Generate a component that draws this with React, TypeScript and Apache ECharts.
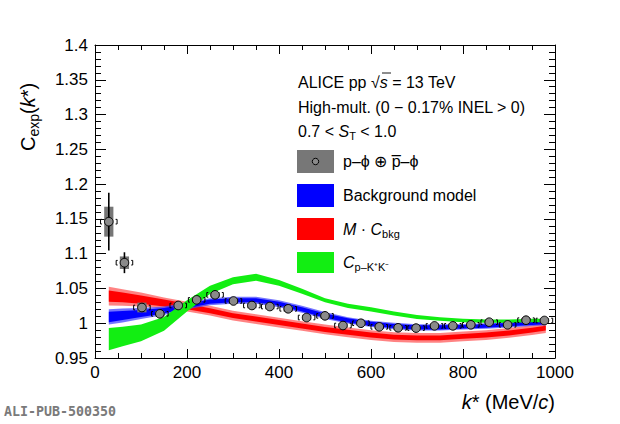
import React, { useEffect, useRef } from "react";
import * as echarts from "echarts";

// ---- band grid (k* in MeV/c) ----
const bandK = [30, 60, 100, 150, 200, 250, 300, 350, 400, 450, 500, 550, 600, 650, 700, 750, 800, 850, 900, 950, 980];

// Background model (blue)
const bkgCenter = [1.009, 1.011, 1.014, 1.018, 1.025, 1.031, 1.033, 1.033, 1.028, 1.020, 1.011, 1.004, 0.999, 0.996, 0.994, 0.994, 0.995, 0.996, 0.998, 1.000, 1.001];
const bkgOuter = [0.011, 0.010, 0.008, 0.006, 0.005, 0.005, 0.005, 0.005, 0.005, 0.005, 0.005, 0.0045, 0.0045, 0.0045, 0.0045, 0.0045, 0.004, 0.004, 0.004, 0.004, 0.004];
const bkgInner = [0.0075, 0.0065, 0.005, 0.004, 0.003, 0.003, 0.003, 0.003, 0.003, 0.003, 0.003, 0.003, 0.003, 0.003, 0.003, 0.003, 0.0025, 0.0025, 0.0025, 0.0025, 0.0025];

// M * C_bkg (red)
const redCenter = [1.039, 1.037, 1.034, 1.029, 1.024, 1.018, 1.011, 1.006, 1.001, 0.996, 0.991, 0.987, 0.983, 0.980, 0.979, 0.979, 0.981, 0.983, 0.986, 0.990, 0.993];
const redOuter = [0.0135, 0.012, 0.010, 0.008, 0.007, 0.007, 0.007, 0.007, 0.007, 0.007, 0.007, 0.007, 0.007, 0.007, 0.007, 0.007, 0.007, 0.007, 0.007, 0.007, 0.007];
const redInner = [0.008, 0.007, 0.006, 0.005, 0.004, 0.0035, 0.0035, 0.0035, 0.0035, 0.0035, 0.0035, 0.0035, 0.0035, 0.0035, 0.0035, 0.0035, 0.0035, 0.0035, 0.0035, 0.0035, 0.0035];

// C_{p-K+K-} (green)
const greenCenter = [0.977, 0.981, 0.986, 0.999, 1.025, 1.048, 1.061, 1.066, 1.058, 1.046, 1.033, 1.025, 1.020, 1.014, 1.009, 1.006, 1.004, 1.003, 1.003, 1.004, 1.004];
const greenHalf = [0.016, 0.014, 0.012, 0.010, 0.008, 0.006, 0.005, 0.005, 0.004, 0.0035, 0.003, 0.003, 0.003, 0.003, 0.0028, 0.0025, 0.0025, 0.0025, 0.0025, 0.0025, 0.0025];

// ---- measured correlation p-phi ----
const dataK = [30, 64, 102, 141, 181, 221, 261, 301, 341, 380, 420, 460, 500, 539, 578, 618, 659, 698, 738, 778, 817, 857, 897, 937, 977];
const dataV = [1.146, 1.087, 1.0226, 1.0135, 1.0255, 1.0336, 1.0408, 1.032, 1.0255, 1.024, 1.0207, 1.0082, 1.0106, 0.9967, 1.0, 0.9948, 0.9934, 0.993, 0.9962, 0.9962, 0.9977, 1.0015, 0.9977, 1.0044, 1.0039];
const dataStat = [0.0415, 0.015, 0.004, 0.0035, 0.003, 0.003, 0.003, 0.003, 0.003, 0.003, 0.003, 0.003, 0.003, 0.0025, 0.0025, 0.0025, 0.0025, 0.0025, 0.0025, 0.0025, 0.0025, 0.0025, 0.0025, 0.0025, 0.0025];
const dataSys = [0.0215, 0.009, 0.007, 0.004, 0.004, 0.004, 0.004, 0.004, 0.004, 0.004, 0.004, 0.004, 0.004, 0.003, 0.003, 0.003, 0.003, 0.003, 0.003, 0.003, 0.003, 0.003, 0.003, 0.003, 0.003];

const FONT = "'Liberation Sans', Arial, Helvetica, sans-serif";
const LF = 16; // legend font size

function bandPoints(api: any, ks: number[], center: number[], half: number[]) {
  const pts: number[][] = [];
  for (let i = 0; i < ks.length; i++) pts.push(api.coord([ks[i], center[i] + half[i]]));
  for (let i = ks.length - 1; i >= 0; i--) pts.push(api.coord([ks[i], center[i] - half[i]]));
  return pts;
}

function bandSeries(name: string, layers: { half: number[]; fill: string }[], center: number[]) {
  return {
    type: "custom",
    name,
    silent: true,
    data: [[bandK[0], center[0]]],
    renderItem: (params: any, api: any) => ({
      type: "group",
      children: layers.map((l) => ({
        type: "polygon",
        shape: { points: bandPoints(api, bandK, center, l.half) },
        style: { fill: l.fill, stroke: null },
      })),
    }),
  };
}

export default function App() {
  const ref = useRef<HTMLDivElement>(null);

  useEffect(() => {
    if (!ref.current) return;
    const chart = echarts.init(ref.current, undefined, { renderer: "svg" });

    const points = dataK.map((k, i) => [k, dataV[i], dataStat[i], dataSys[i]]);

    const axisCommon = {
      type: "value",
      splitLine: { show: false },
      axisLine: { show: true, onZero: false, lineStyle: { color: "#000", width: 1 } },
    };

    const yFmt = (v: number) => String(parseFloat(v.toFixed(2)));
    const xFmt = (v: number) => String(Math.round(v));

    const option: any = {
      animation: false,
      grid: { left: 95, right: 65, top: 45, bottom: 66, containLabel: false },
      xAxis: [
        {
          ...axisCommon,
          position: "bottom",
          min: 0,
          max: 1000,
          interval: 200,
          axisTick: { show: true, inside: true, length: 9, lineStyle: { color: "#000" } },
          minorTick: { show: true, splitNumber: 4, length: 5, lineStyle: { color: "#000" } },
          axisLabel: { show: true, color: "#000", fontFamily: FONT, fontSize: 17, margin: 6, formatter: xFmt },
        },
        {
          ...axisCommon,
          position: "top",
          min: 0,
          max: 1000,
          interval: 200,
          axisTick: { show: true, inside: true, length: 9, lineStyle: { color: "#000" } },
          minorTick: { show: true, splitNumber: 4, length: 5, lineStyle: { color: "#000" } },
          axisLabel: { show: false },
        },
      ],
      yAxis: [
        {
          ...axisCommon,
          position: "left",
          min: 0.95,
          max: 1.4,
          interval: 0.05,
          axisTick: { show: true, inside: true, length: 11, lineStyle: { color: "#000" } },
          minorTick: { show: true, splitNumber: 5, length: 6, lineStyle: { color: "#000" } },
          axisLabel: { show: true, color: "#000", fontFamily: FONT, fontSize: 17, margin: 7, formatter: yFmt },
        },
        {
          ...axisCommon,
          position: "right",
          min: 0.95,
          max: 1.4,
          interval: 0.05,
          axisTick: { show: true, inside: true, length: 11, lineStyle: { color: "#000" } },
          minorTick: { show: true, splitNumber: 5, length: 6, lineStyle: { color: "#000" } },
          axisLabel: { show: false },
        },
      ],
      series: [
        bandSeries("M · Cbkg", [
          { half: redOuter, fill: "rgba(255,90,90,0.75)" },
          { half: redInner, fill: "#ff0000" },
        ], redCenter),
        bandSeries("Background model", [
          { half: bkgOuter, fill: "rgba(70,70,255,0.75)" },
          { half: bkgInner, fill: "#0000ff" },
        ], bkgCenter),
        bandSeries("Cp-K+K-", [{ half: greenHalf, fill: "#12ee12" }], greenCenter),
        {
          type: "custom",
          name: "p-phi",
          silent: true,
          data: points,
          renderItem: (params: any, api: any) => {
            const k = api.value(0);
            const v = api.value(1);
            const st = api.value(2);
            const sy = api.value(3);
            const c = api.coord([k, v]);
            const top = api.coord([k, v + st]);
            const bot = api.coord([k, v - st]);
            const sTop = api.coord([k, v + sy]);
            const sBot = api.coord([k, v - sy]);
            const boxW = api.size([20, 0])[0];
            const brOff = api.size([18, 0])[0];
            const r = 4.3;
            const bh = 2.3;
            const xl = c[0] - brOff;
            const xr = c[0] + brOff;
            return {
              type: "group",
              children: [
                {
                  type: "rect",
                  shape: { x: c[0] - boxW / 2, y: sTop[1], width: boxW, height: sBot[1] - sTop[1] },
                  style: { fill: "#767676" },
                },
                {
                  type: "line",
                  shape: { x1: c[0], y1: top[1], x2: c[0], y2: bot[1] },
                  style: { stroke: "#000", lineWidth: 1.6 },
                },
                {
                  type: "polyline",
                  shape: { points: [[xl + 1.5, c[1] - bh], [xl, c[1] - bh], [xl, c[1] + bh], [xl + 1.5, c[1] + bh]] },
                  style: { stroke: "#000", lineWidth: 1, fill: null },
                },
                {
                  type: "polyline",
                  shape: { points: [[xr - 1.5, c[1] - bh], [xr, c[1] - bh], [xr, c[1] + bh], [xr - 1.5, c[1] + bh]] },
                  style: { stroke: "#000", lineWidth: 1, fill: null },
                },
                {
                  type: "circle",
                  shape: { cx: c[0], cy: c[1], r },
                  style: { fill: "#8a8a8a", stroke: "#000", lineWidth: 1 },
                },
              ],
            };
          },
        },
      ],
      graphic: [
        // y-axis title (rotated)
        {
          type: "text",
          x: 28,
          y: 151,
          rotation: Math.PI / 2,
          style: {
            text: "{n|C}{sub|exp}{n|(}{i|k}{n|*)}",
            align: "left",
            verticalAlign: "middle",
            fill: "#000",
            rich: {
              n: { fontFamily: FONT, fontSize: 20, fill: "#000" },
              i: { fontFamily: FONT, fontSize: 20, fontStyle: "italic", fill: "#000" },
              sub: { fontFamily: FONT, fontSize: 14, fill: "#000", padding: [11, 0, 0, 0] },
            },
          },
        },
        // x-axis title
        {
          type: "text",
          x: 555,
          y: 402,
          style: {
            text: "{i|k}{n|* (MeV/}{i|c}{n|)}",
            align: "right",
            verticalAlign: "middle",
            fill: "#000",
            rich: {
              n: { fontFamily: FONT, fontSize: 20, fill: "#000" },
              i: { fontFamily: FONT, fontSize: 20, fontStyle: "italic", fill: "#000" },
            },
          },
        },
        // watermark
        {
          type: "text",
          x: 4,
          y: 411,
          style: {
            text: "ALI-PUB-500350",
            fontFamily: "'DejaVu Sans Mono', 'Liberation Mono', monospace",
            fontSize: 13.3,
            fontWeight: "bold",
            fill: "#7a7a7a",
            verticalAlign: "middle",
          },
        },
        // header texts
        {
          type: "text",
          x: 298,
          y: 82,
          style: {
            text: "{n|ALICE pp √}{i|s}{n| = 13 TeV}",
            verticalAlign: "middle",
            rich: {
              n: { fontFamily: FONT, fontSize: LF, fill: "#000" },
              i: { fontFamily: FONT, fontSize: LF, fontStyle: "italic", fill: "#000" },
            },
          },
        },
        {
          type: "line",
          shape: { x1: 382, y1: 73, x2: 391, y2: 73 },
          style: { stroke: "#000", lineWidth: 0.9 },
        },
        {
          type: "text",
          x: 298,
          y: 107,
          style: {
            text: "High-mult. (0 − 0.17% INEL > 0)",
            fontFamily: FONT,
            fontSize: LF,
            fill: "#000",
            verticalAlign: "middle",
          },
        },
        {
          type: "text",
          x: 298,
          y: 131,
          style: {
            text: "{n|0.7 < }{i|S}{sub|T}{n| < 1.0}",
            verticalAlign: "middle",
            rich: {
              n: { fontFamily: FONT, fontSize: LF, fill: "#000" },
              i: { fontFamily: FONT, fontSize: LF, fontStyle: "italic", fill: "#000" },
              sub: { fontFamily: FONT, fontSize: 11, fill: "#000", padding: [9, 0, 0, 0] },
            },
          },
        },
        // legend boxes
        { type: "rect", shape: { x: 297, y: 150, width: 37, height: 23 }, style: { fill: "#777777" } },
        { type: "circle", shape: { cx: 315.5, cy: 161.5, r: 3.2 }, style: { fill: "#8a8a8a", stroke: "#000", lineWidth: 1 } },
        { type: "rect", shape: { x: 297, y: 184, width: 37, height: 23 }, style: { fill: "#0000ff" } },
        { type: "rect", shape: { x: 297, y: 218, width: 37, height: 22 }, style: { fill: "#ff0000" } },
        { type: "rect", shape: { x: 297, y: 252, width: 37, height: 21 }, style: { fill: "#12ee12" } },
        // legend labels
        {
          type: "text",
          x: 343,
          y: 161,
          style: { text: "p–ϕ ⊕ p̅–ϕ", fontFamily: FONT, fontSize: LF, fill: "#000", verticalAlign: "middle" },
        },
        {
          type: "text",
          x: 343,
          y: 195,
          style: { text: "Background model", fontFamily: FONT, fontSize: LF, fill: "#000", verticalAlign: "middle" },
        },
        {
          type: "text",
          x: 343,
          y: 229,
          style: {
            text: "{i|M}{n| · }{i|C}{sub|bkg}",
            verticalAlign: "middle",
            rich: {
              n: { fontFamily: FONT, fontSize: LF, fill: "#000" },
              i: { fontFamily: FONT, fontSize: LF, fontStyle: "italic", fill: "#000" },
              sub: { fontFamily: FONT, fontSize: 11, fill: "#000", padding: [10, 0, 0, 0] },
            },
          },
        },
        {
          type: "text",
          x: 343,
          y: 262,
          style: {
            text: "{i|C}{sub|p–K⁺K⁻}",
            verticalAlign: "middle",
            rich: {
              i: { fontFamily: FONT, fontSize: LF, fontStyle: "italic", fill: "#000" },
              sub: { fontFamily: FONT, fontSize: 11, fill: "#000", padding: [10, 0, 0, 0] },
            },
          },
        },
      ],
    };

    chart.setOption(option);
    return () => chart.dispose();
  }, []);

  return (
    <div
      ref={ref}
      style={{ position: "fixed", left: 0, top: 0, width: 620, height: 424, background: "#fff" }}
    />
  );
}
